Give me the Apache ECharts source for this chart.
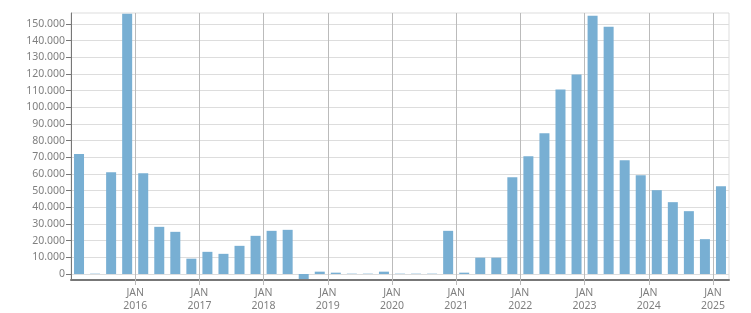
<!DOCTYPE html>
<html>
<head>
<meta charset="utf-8">
<script src="https://cdn.jsdelivr.net/npm/echarts@6/dist/echarts.min.js"></script>
<style>
html,body{margin:0;padding:0;background:#fff;}
#chart{width:751px;height:313px;}
</style>
</head>
<body>
<div id="chart"></div>
<script>
var quarters = ['2015 Q1','2015 Q2','2015 Q3','2015 Q4','2016 Q1','2016 Q2','2016 Q3','2016 Q4',
  '2017 Q1','2017 Q2','2017 Q3','2017 Q4','2018 Q1','2018 Q2','2018 Q3','2018 Q4',
  '2019 Q1','2019 Q2','2019 Q3','2019 Q4','2020 Q1','2020 Q2','2020 Q3','2020 Q4',
  '2021 Q1','2021 Q2','2021 Q3','2021 Q4','2022 Q1','2022 Q2','2022 Q3','2022 Q4',
  '2023 Q1','2023 Q2','2023 Q3','2023 Q4','2024 Q1','2024 Q2','2024 Q3','2024 Q4','2025 Q1'];
var values = [72000, 200, 61000, 156200, 60400, 28300, 25300, 9200,
  13300, 12100, 16900, 22900, 25900, 26500, -3000, 1400,
  800, 200, 200, 1400, 200, 200, 200, 25900,
  800, 9800, 9800, 58000, 70600, 84400, 110700, 119700,
  155000, 148400, 68200, 59200, 50300, 43100, 37700, 20900, 52700];
var yTicks = [0, 10000, 20000, 30000, 40000, 50000, 60000, 70000, 80000, 90000, 100000, 110000, 120000, 130000, 140000, 150000];
var yMin = -3600;
var yMax = 156600;
var xMonth = 'JAN';
var xYears = ['2016','2017','2018','2019','2020','2021','2022','2023','2024','2025'];
var xYearTickPos = [4, 8, 12, 16, 20, 24, 28, 32, 36, 40];

function fmt(v){ return String(v).replace(/\B(?=(\d{3})+(?!\d))/g, '.'); }

var chart = echarts.init(document.getElementById('chart'), null, {renderer:'canvas'});
var font = 'Noto Sans';
chart.setOption({
  animation: false,
  backgroundColor: '#ffffff',
  grid: {left: 71, right: 22, top: 13, bottom: 32, show: true, borderColor: '#dddddd', borderWidth: 1, containLabel: false},
  xAxis: [{
    type: 'category',
    data: quarters,
    boundaryGap: true,
    position: 'bottom',
    axisLine: {onZero: false, lineStyle: {color: '#777777', width: 2}},
    axisTick: {interval: 0, length: 3, lineStyle: {color: '#777777'}},
    axisLabel: {show: false},
    splitLine: {show: false},
    z: 3
  }, {
    type: 'value',
    min: 0,
    max: quarters.length,
    position: 'bottom',
    axisLine: {show: false, onZero: false},
    axisTick: {show: true, customValues: xYearTickPos, length: 5, lineStyle: {color: '#bbbbbb'}},
    axisLabel: {
      customValues: xYearTickPos,
      formatter: function(v){ var i = xYearTickPos.indexOf(v); return i >= 0 ? xMonth + '\n' + xYears[i] : ''; },
      color: '#808080', fontFamily: font, fontSize: 10.5, lineHeight: 13, margin: 7
    },
    splitLine: {show: true, lineStyle: {color: '#bbbbbb', width: 1}},
    z: 4
  }],
  yAxis: {
    type: 'value',
    min: yMin,
    max: yMax,
    axisLine: {show: true, onZero: false, lineStyle: {color: '#777777', width: 1}},
    axisTick: {show: true, customValues: yTicks, length: 5, lineStyle: {color: '#777777'}},
    axisLabel: {customValues: yTicks, formatter: function(v){ return fmt(v); }, color: '#808080', fontFamily: font, fontSize: 10.5, margin: 6},
    splitLine: {show: true, lineStyle: {color: '#dddddd', width: 1}}
  },
  series: [{
    type: 'bar',
    xAxisIndex: 0,
    data: values,
    barWidth: 10,
    itemStyle: {color: '#78afd3'},
    z: 2
  }]
});
</script>
</body>
</html>
